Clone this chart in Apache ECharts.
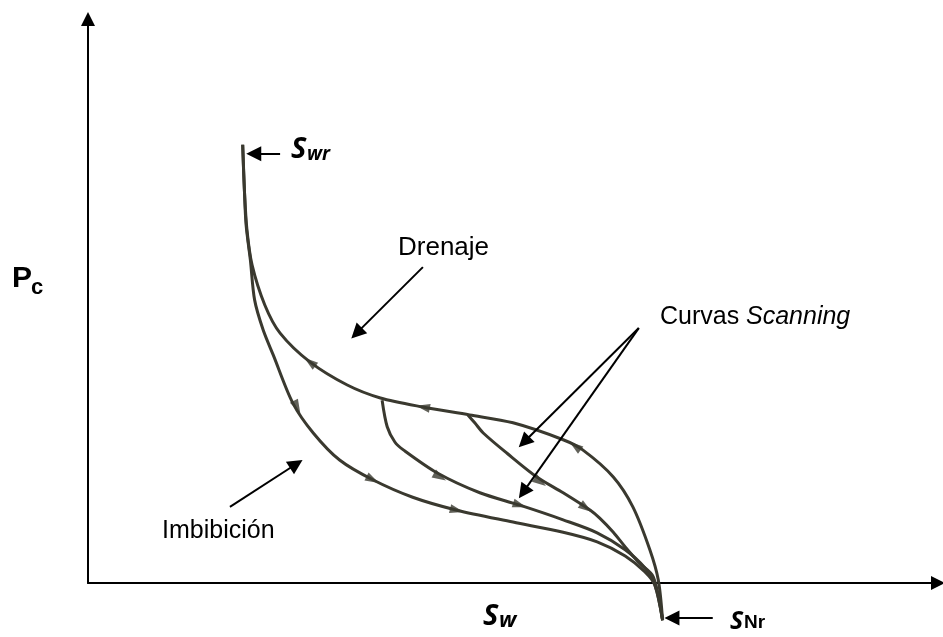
<!DOCTYPE html>
<html>
<head>
<meta charset="utf-8">
<script src="https://cdn.jsdelivr.net/npm/echarts@6/dist/echarts.min.js"></script>
<style>
  html, body { margin: 0; padding: 0; background: #fff; }
  #chart { width: 943px; height: 637px; }
</style>
</head>
<body>
<div id="chart"></div>
<script>
// Capillary pressure hysteresis: water saturation Sw (%) vs. Pc (arbitrary units).
// Each curve runs from its start point towards the residual non-wetting saturation S_Nr.

// Primary drainage, from S_wr down to S_Nr
const drainageSw = [18.2, 18.4, 18.7, 19.3, 20.8, 22.6, 26.1, 30.5, 34.4, 39.4, 44.9, 50.0, 55.9, 58.2, 61.8, 64.1, 66.1, 67.1, 67.6];
const drainagePc = [77.7, 69.7, 62.6, 56.4, 49.3, 44.3, 39.2, 35.1, 32.8, 31.2, 29.8, 28.4, 25.4, 23.6, 18.8, 13.5, 5.9, 0.5, -6.6];

// Main imbibition
const imbibitionSw = [18.2, 18.4, 18.6, 19.1, 19.6, 20.6, 21.8, 24.1, 26.5, 29.6, 33.5, 38.2, 43.4, 50.0, 55.9, 59.9, 63.2, 65.5, 66.7, 67.6];
const imbibitionPc = [77.7, 69.7, 63.5, 57.3, 50.2, 44.9, 40.4, 31.9, 26.6, 21.8, 18.3, 15.2, 12.9, 10.8, 9.0, 7.3, 4.8, 2.0, -0.4, -6.6];

// Scanning curve leaving the drainage curve at lower Sw
const scan1Sw = [34.6, 35.2, 36.1, 37.1, 41.1, 46.1, 50.8, 55.9, 59.9, 63.2, 65.5, 66.7, 67.6];
const scan1Pc = [32.4, 27.7, 25.0, 23.6, 19.5, 16.0, 13.8, 11.2, 8.9, 5.9, 2.7, -0.4, -6.6];

// Scanning curve leaving the drainage curve at higher Sw
const scan2Sw = [44.7, 45.5, 46.5, 49.3, 52.8, 55.9, 59.1, 60.2, 61.8, 63.2, 64.9, 66.5, 67.6];
const scan2Pc = [29.8, 28.4, 26.6, 23.0, 18.8, 16.0, 12.9, 11.5, 9.0, 6.4, 3.5, 1.1, -6.6];

// Flow-direction marks along each curve
const drainageMarksSw = [26.1, 39.4, 57.3];
const drainageMarksPc = [39.2, 31.2, 24.3];
const imbibitionMarksSw = [24.6, 33.5, 43.4];
const imbibitionMarksPc = [31.2, 18.3, 12.9];
const scan1MarksSw = [41.4, 50.8];
const scan1MarksPc = [18.8, 13.8];
const scan2MarksSw = [53.2, 58.6];
const scan2MarksPc = [17.9, 13.3];

// Annotation pointers: [fromSw, fromPc, toSw, toPc]
const pointerDrenaje = [39.4, 56.0, 31.6, 44.3];
const pointerScan1 = [64.8, 45.2, 51.3, 25.0];
const pointerScan2 = [64.8, 45.2, 51.2, 16.1];
const pointerImbibicion = [16.7, 13.5, 24.5, 21.1];
const pointerSwr = [22.6, 76.1, 19.5, 76.1];
const pointerSNr = [73.5, -6.2, 68.7, -6.2];

const CURVE = '#3a392f';
const zip = (a, b) => a.map((v, i) => [v, b[i]]);

const curves = [
  { id: 'drainage', sw: drainageSw, pc: drainagePc, msw: drainageMarksSw, mpc: drainageMarksPc, reverse: true },
  { id: 'imbibition', sw: imbibitionSw, pc: imbibitionPc, msw: imbibitionMarksSw, mpc: imbibitionMarksPc, reverse: false },
  { id: 'scan1', sw: scan1Sw, pc: scan1Pc, msw: scan1MarksSw, mpc: scan1MarksPc, reverse: false },
  { id: 'scan2', sw: scan2Sw, pc: scan2Pc, msw: scan2MarksSw, mpc: scan2MarksPc, reverse: false }
];

const pointers = [pointerDrenaje, pointerScan1, pointerScan2, pointerImbibicion, pointerSwr, pointerSNr];

const chart = echarts.init(document.getElementById('chart'), null, { renderer: 'canvas' });

const axisCommon = {
  type: 'value',
  min: 0,
  max: 100,
  axisLine: {
    show: true,
    onZero: false,
    symbol: ['none', 'triangle'],
    symbolSize: [14, 14],
    lineStyle: { color: '#000', width: 2 }
  },
  axisTick: { show: false },
  axisLabel: { show: false },
  splitLine: { show: false }
};

const series = [];
curves.forEach(c => {
  series.push({
    id: c.id,
    type: 'line',
    data: zip(c.sw, c.pc),
    showSymbol: false,
    smooth: 0.3,
    clip: false,
    silent: true,
    lineStyle: { color: CURVE, width: 3 },
    z: 2
  });
  series.push({
    id: c.id + '-marks',
    type: 'scatter',
    data: zip(c.msw, c.mpc),
    symbol: 'triangle',
    symbolSize: [9, 14],
    clip: false,
    silent: true,
    itemStyle: { color: CURVE },
    z: 3
  });
});

series.push({
  id: 'pointers',
  type: 'lines',
  coordinateSystem: 'cartesian2d',
  polyline: false,
  clip: false,
  silent: true,
  symbol: ['none', 'triangle'],
  symbolSize: 15,
  lineStyle: { color: '#000', width: 2, opacity: 1 },
  data: pointers.map(p => ({ coords: [[p[0], p[1]], [p[2], p[3]]] })),
  z: 4
});

const sans = '"Liberation Sans", Arial, sans-serif';
const ital = '"Open Sans", "DejaVu Sans", sans-serif';
const label = (x, y, text, font) => ({
  type: 'text',
  x, y,
  style: { text, font, fill: '#000', textAlign: 'left', textVerticalAlign: 'middle', verticalAlign: 'middle' },
  silent: true
});

const graphic = [
  label(398, 248, 'Drenaje', '26px ' + sans),
  label(162, 531, 'Imbibición', '25px ' + sans),
  label(660, 317, 'Curvas ', '25px ' + sans),
  label(746, 317, 'Scanning', 'italic 25px ' + sans),
  label(12, 279, 'P', 'bold 30px ' + sans),
  label(31, 288, 'c', 'bold 22px ' + sans),
  label(291, 150, 'S', 'italic 700 29px ' + ital),
  label(307, 155, 'wr', 'italic 700 19px ' + ital),
  label(483, 617, 'S', 'italic 700 29px ' + ital),
  label(499, 621, 'w', 'italic 700 22px ' + ital),
  label(730, 622, 'S', 'italic 700 25px ' + ital),
  label(744, 623, 'Nr', 'bold 19px ' + sans)
];

chart.setOption({
  animation: false,
  backgroundColor: '#fff',
  grid: { left: 88, right: 5, top: 19, bottom: 54, containLabel: false },
  xAxis: axisCommon,
  yAxis: axisCommon,
  series,
  graphic
});

// Orient each direction mark along the local tangent of its curve, on screen.
function markRotation(c, sw, pc) {
  const px = c.sw.map((v, i) => chart.convertToPixel({ gridIndex: 0 }, [v, c.pc[i]]));
  const m = chart.convertToPixel({ gridIndex: 0 }, [sw, pc]);
  let best = 0, bd = Infinity;
  px.forEach((p, i) => {
    const d = (p[0] - m[0]) ** 2 + (p[1] - m[1]) ** 2;
    if (d < bd) { bd = d; best = i; }
  });
  const a = px[Math.max(0, best - 1)];
  const b = px[Math.min(px.length - 1, best + 1)];
  let dx = b[0] - a[0], dy = b[1] - a[1];
  if (c.reverse) { dx = -dx; dy = -dy; }
  return Math.atan2(-dx, -dy) * 180 / Math.PI;
}

chart.setOption({
  series: curves.map(c => ({
    id: c.id + '-marks',
    data: c.msw.map((v, i) => ({ value: [v, c.mpc[i]], symbolRotate: markRotation(c, v, c.mpc[i]) }))
  }))
});
</script>
</body>
</html>
